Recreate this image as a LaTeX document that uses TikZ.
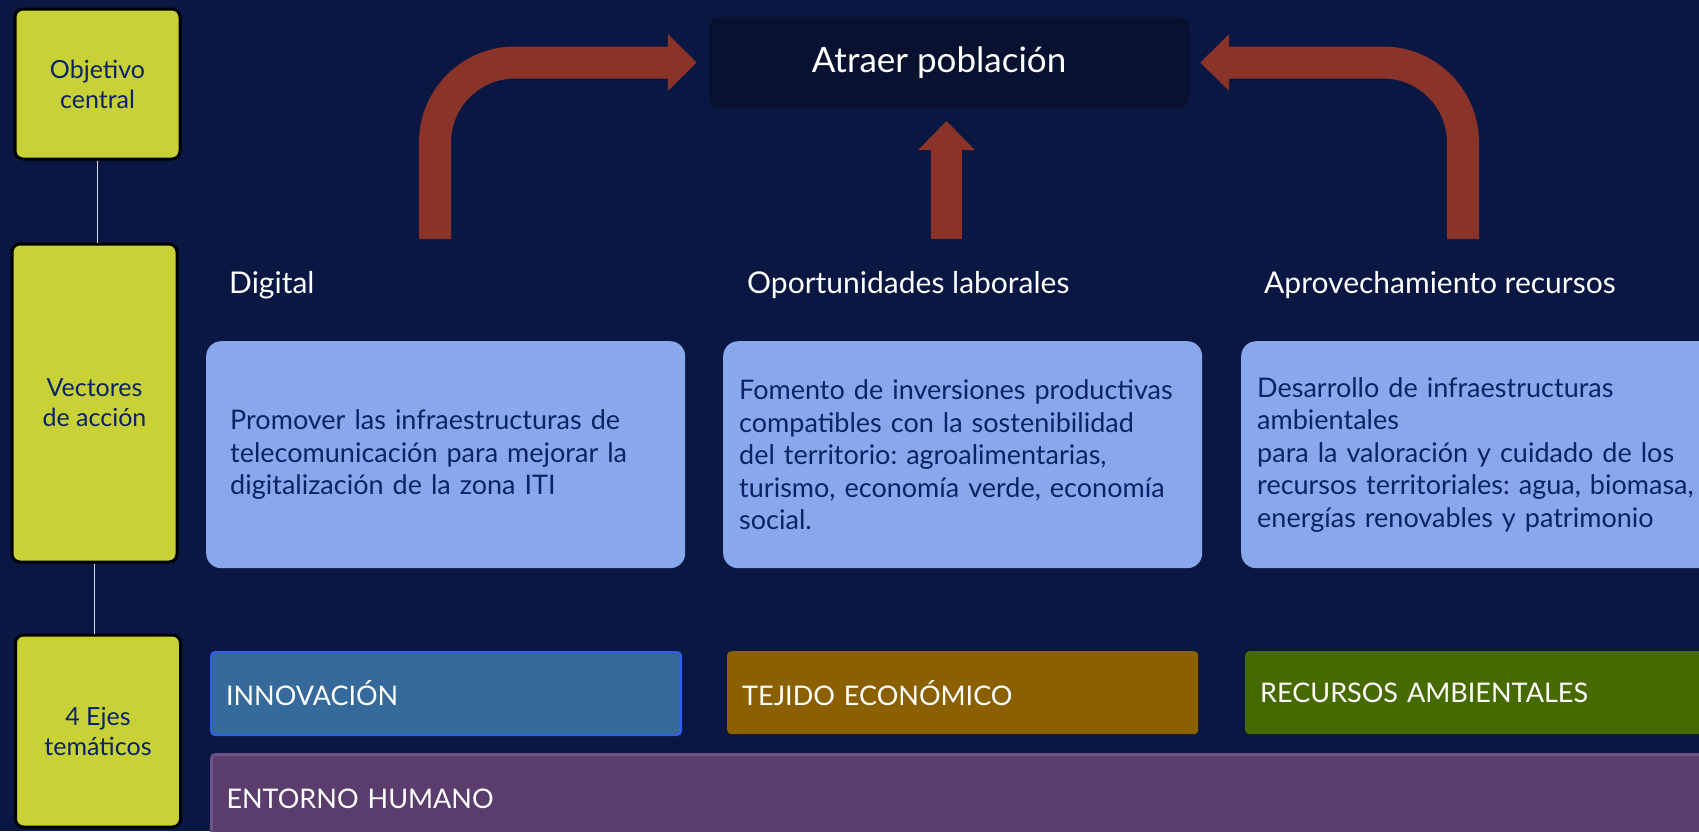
\documentclass[tikz,border=0pt]{standalone}
\usepackage{fontspec}
\setmainfont{Lato}
\frenchspacing
\usetikzlibrary{arrows.meta}
\definecolor{fondo}{HTML}{0A1742}
\definecolor{meta}{HTML}{08112F}
\definecolor{flecha}{HTML}{8A3329}
\definecolor{amarillo}{HTML}{C8D236}
\definecolor{celeste}{HTML}{88A8EB}
\definecolor{tinta}{HTML}{0C2266}
\definecolor{innov}{HTML}{356A9A}
\definecolor{innovborde}{HTML}{2F5EF0}
\definecolor{tejido}{HTML}{8A6000}
\definecolor{recurso}{HTML}{476A00}
\definecolor{entorno}{HTML}{5A3D6D}
\definecolor{entornoborde}{HTML}{6F5288}
\begin{document}
\begin{tikzpicture}[x=1pt,y=-1pt,
  nivel/.style={draw=black,line width=3pt,fill=amarillo,rounded corners=8pt,text=tinta,align=center,font=\fontsize{25}{30}\selectfont,minimum width=165pt},
  vector/.style={anchor=north west,fill=celeste,rounded corners=15pt,text=tinta,align=left,font=\fontsize{27}{32.5}\selectfont,minimum height=227pt,inner xsep=16pt,text width=447pt},
  eje/.style={anchor=north west,text=white,font=\fontsize{27}{32}\selectfont,rounded corners=4pt,minimum height=83pt,inner xsep=15pt,text width=441pt,align=left},
  titulo/.style={anchor=base west,text=white,font=\fontsize{30}{36}\selectfont,inner sep=0pt},
  bigarrow/.style={draw=flecha,line width=32pt,rounded corners=80pt,-{Triangle[length=29pt,width=55pt]}}]
\useasboundingbox (0,0) rectangle (1699,831);
\fill[fondo] (0,0) rectangle (1699,831);

\node[nivel,minimum height=150pt] (obj)  at (97.5,84)  {Objetivo\\central};
\node[nivel,minimum height=318pt] (vec)  at (94.5,403) {Vectores\\de acción};
\node[nivel,minimum height=192pt] (ejes) at (98,731)   {4 Ejes\\temáticos};
\draw[white!85!fondo,line width=1.5pt] (obj.south) -- (obj.south |- vec.north);
\draw[white!85!fondo,line width=1.5pt] (vec.south) -- (vec.south |- ejes.north);

\node[fill=meta,rounded corners=10pt,minimum width=480pt,minimum height=91pt,text=white,font=\fontsize{35}{40}\selectfont] (atraer) at (949,62.5) {Atraer población\hspace*{20pt}};

\node[titulo] (digital) at (229,293)  {Digital};
\node[titulo] (laboral) at (747,293)  {Oportunidades laborales};
\node[titulo] (recurso) at (1264,293) {Aprovechamiento recursos};

\coordinate (digArrow) at (435,239);
\coordinate (labArrow) at (946.5,239);
\coordinate (recArrow) at (1463,239);
\draw[bigarrow] (digArrow) |- ([xshift=-12pt]atraer.west);
\draw[bigarrow] (recArrow) |- ([xshift=11pt]atraer.east);
\draw[bigarrow,line width=31pt] (labArrow) -- (labArrow |- 0,121);

\node[vector,inner xsep=24pt,text width=431pt] (vecDig) at (206,341)  {Promover las infraestructuras de\\telecomunicación para mejorar la\\digitalización de la zona ITI};
\node[vector] (vecLab) at (723,341)  {Fomento de inversiones productivas\\compatibles con la sostenibilidad\\del territorio: agroalimentarias,\\turismo, economía verde, economía\\social.};
\node[vector,text width=480pt] (vecRec) at (1241,341) {Desarrollo de infraestructuras\\ambientales\\para la valoración y cuidado de los\\recursos territoriales: agua, biomasa,\\energías renovables y patrimonio};

\node[eje,fill=innov,draw=innovborde,line width=2pt,text width=440pt] (inno) at (210,651) {INNOVACIÓN};
\node[eje,fill=tejido]  (tej) at (727,651)  {TEJIDO ECONÓMICO};
\node[eje,fill=recurso] (rec) at (1245,651) {RECURSOS AMBIENTALES};
\node[eje,fill=entorno,draw=entornoborde,line width=3pt,minimum height=100pt,text width=1500pt,text depth=12pt] (ent) at (210,753) {ENTORNO HUMANO};
\end{tikzpicture}
\end{document}
